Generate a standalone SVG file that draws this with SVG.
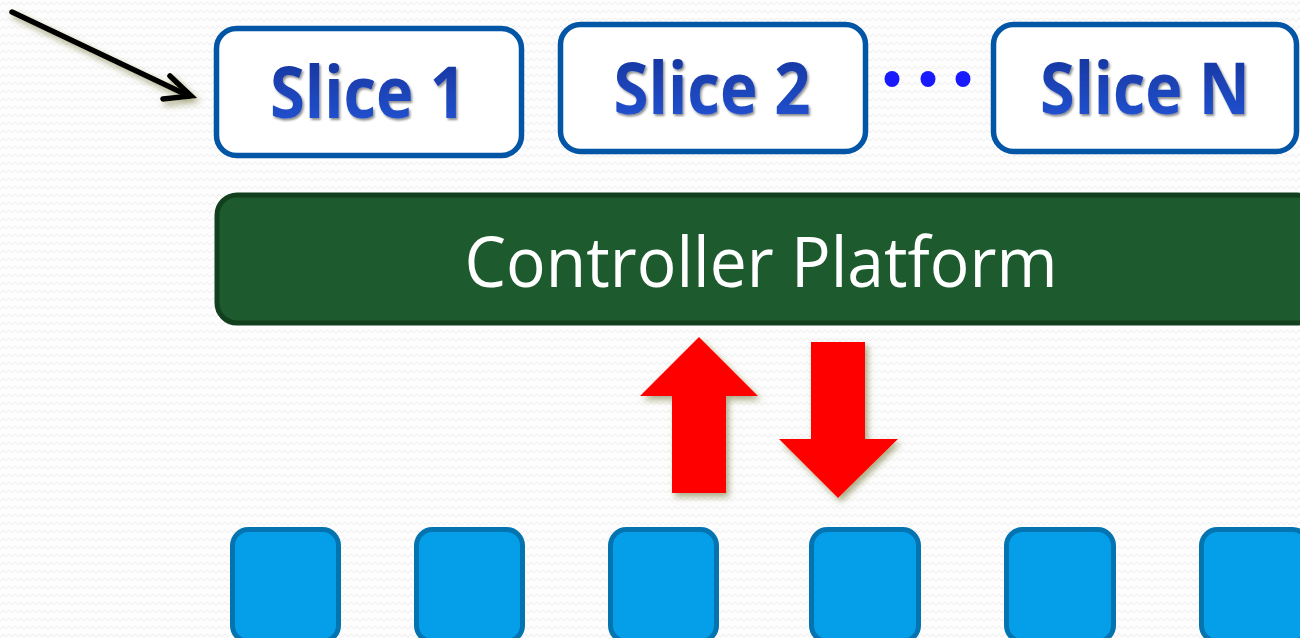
<svg xmlns="http://www.w3.org/2000/svg" width="1300" height="638" viewBox="0 0 1300 638">
<defs>
<pattern id="bgp" width="12" height="8" patternUnits="userSpaceOnUse">
<rect width="12" height="8" fill="#fdfdfd"/>
<path d="M0 5 L3 2 L6 5 L9 2 L12 5" fill="none" stroke="#ededed" stroke-width="1"/>
</pattern>
<linearGradient id="tg" x1="0" y1="0" x2="0" y2="1">
<stop offset="0" stop-color="#142f92"/>
<stop offset="1" stop-color="#2458dc"/>
</linearGradient>
<filter id="tsh" x="-10%" y="-20%" width="120%" height="150%">
<feDropShadow dx="1.5" dy="2" stdDeviation="1.2" flood-color="#000" flood-opacity="0.45"/>
</filter>
<filter id="ash" x="-30%" y="-30%" width="160%" height="160%">
<feDropShadow dx="3" dy="4" stdDeviation="3" flood-color="#6b6b2a" flood-opacity="0.55"/>
</filter>
<style>
.slice rect{fill:#fff;stroke:#0356a6;stroke-width:5.5}
.slice text{font-family:"Open Sans","Liberation Sans",sans-serif;font-weight:bold;font-size:72px;fill:url(#tg);text-anchor:middle;filter:url(#tsh)}
.sw rect{fill:#049fe8;stroke:#0474b0;stroke-width:5}
.red{fill:#ff0000;filter:url(#ash)}
.dot{fill:#1a1aff}
</style>
</defs>
<rect width="1300" height="638" fill="url(#bgp)"/>

<g id="slice1" class="slice">
<rect x="216.5" y="28.5" width="305" height="127" rx="20"/>
<text x="368" y="118" textLength="196" lengthAdjust="spacingAndGlyphs">Slice 1</text>
</g>
<g id="slice2" class="slice">
<rect x="560.5" y="24.5" width="305" height="127" rx="20"/>
<text x="712" y="114" textLength="197" lengthAdjust="spacingAndGlyphs">Slice 2</text>
</g>
<g id="ellipsis">
<ellipse class="dot" cx="892" cy="79" rx="7.5" ry="8"/>
<ellipse class="dot" cx="928" cy="79" rx="7.5" ry="8"/>
<ellipse class="dot" cx="963" cy="79" rx="7.5" ry="8"/>
</g>
<g id="sliceN" class="slice">
<rect x="993.5" y="24.5" width="303" height="127" rx="20"/>
<text x="1145" y="114" textLength="210" lengthAdjust="spacingAndGlyphs">Slice N</text>
</g>

<g id="controller">
<rect x="217" y="195" width="1100" height="128" rx="20" fill="#1d5a2e" stroke="#123f1e" stroke-width="5"/>
<text x="761" y="287" font-family="Open Sans, Liberation Sans, sans-serif" font-size="70" fill="#fff" text-anchor="middle" textLength="593" lengthAdjust="spacingAndGlyphs">Controller Platform</text>
</g>

<g id="connectors">
<g id="pointer" filter="url(#ash)">
<line x1="12" y1="12" x2="189" y2="96" stroke="#000" stroke-width="5.5" stroke-linecap="round"/>
<polyline points="170,76 191,96 163,99" fill="none" stroke="#000" stroke-width="5.5" stroke-linecap="round" stroke-linejoin="miter"/>
</g>
<polygon id="up" class="red" points="699,337 758,396 726,396 726,493 672,493 672,396 640,396"/>
<polygon id="down" class="red" points="811,342 865,342 865,439 898,439 838,498 779,439 811,439"/>
</g>

<g id="sw1" class="sw"><rect x="232.5" y="529.5" width="106" height="112" rx="16"/></g>
<g id="sw2" class="sw"><rect x="416.5" y="529.5" width="106" height="112" rx="16"/></g>
<g id="sw3" class="sw"><rect x="610.5" y="529.5" width="106" height="112" rx="16"/></g>
<g id="sw4" class="sw"><rect x="811.5" y="529.5" width="107" height="112" rx="16"/></g>
<g id="sw5" class="sw"><rect x="1006.5" y="529.5" width="107" height="112" rx="16"/></g>
<g id="sw6" class="sw"><rect x="1201.5" y="529.5" width="107" height="112" rx="16"/></g>
</svg>
